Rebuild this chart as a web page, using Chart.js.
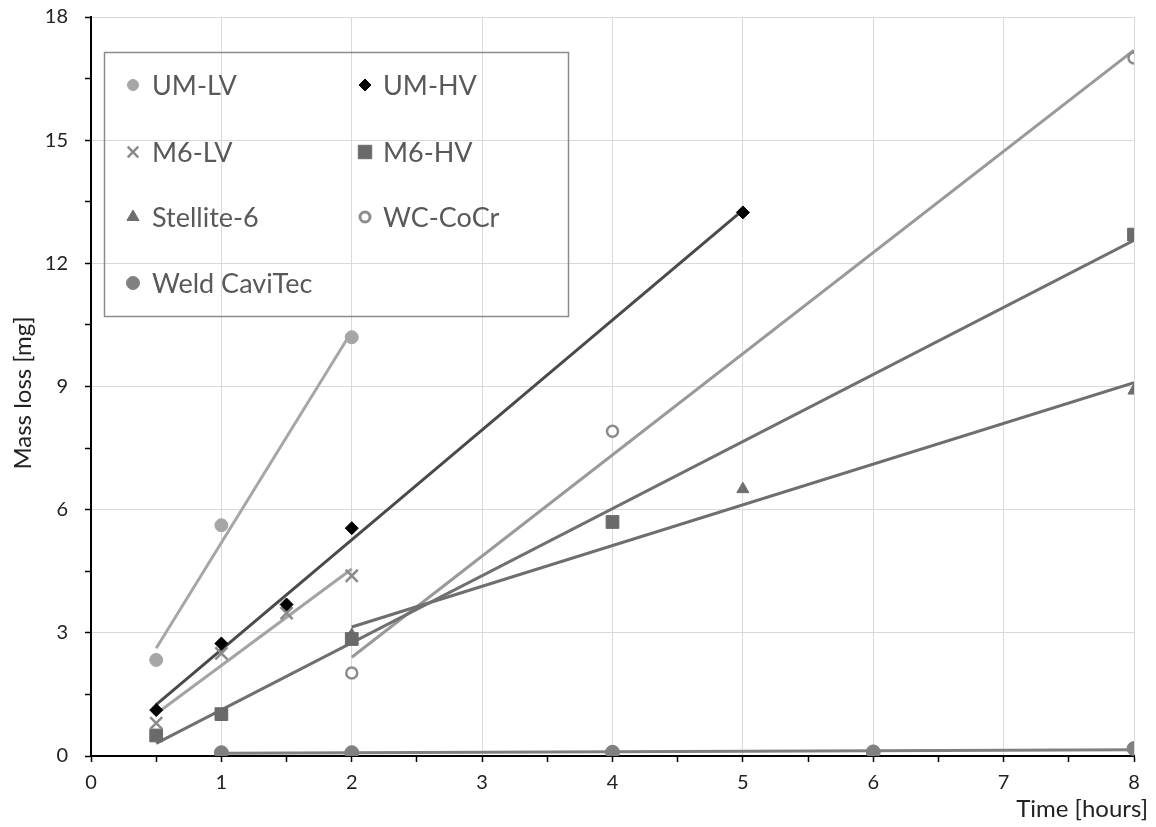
<!DOCTYPE html>
<html><head><meta charset="utf-8">
<script src="https://cdn.jsdelivr.net/npm/chart.js@4.4.1/dist/chart.umd.min.js"></script>
<style>html,body{margin:0;padding:0;background:#fff;}#wrap{width:1156px;height:827px;position:relative;}</style>
</head><body><div id="wrap"><canvas id="c"></canvas></div>
<script>
// ---- data (time in hours, mass loss in mg) ----
const umLvTime = [0.5, 1, 2];
const umLvLoss = [2.34, 5.62, 10.2];
const umHvTime = [0.5, 1, 1.5, 2, 5];
const umHvLoss = [1.12, 2.74, 3.69, 5.55, 13.24];
const m6LvTime = [0.5, 1, 1.5, 2];
const m6LvLoss = [0.8, 2.5, 3.48, 4.39];
const m6HvTime = [0.5, 1, 2, 4, 8];
const m6HvLoss = [0.5, 1.02, 2.85, 5.7, 12.7];
const stelliteTime = [2, 5, 8];
const stelliteLoss = [2.95, 6.5, 8.9];
const wcCoCrTime = [2, 4, 8];
const wcCoCrLoss = [2.02, 7.91, 17.0];
const weldTime = [1, 2, 4, 6, 8];
const weldLoss = [0.08, 0.08, 0.09, 0.1, 0.18];
const xTickLabels = [0, 1, 2, 3, 4, 5, 6, 7, 8];
const yTickLabels = [0, 3, 6, 9, 12, 15, 18];
const FONT = 'Lato, "Open Sans", sans-serif';

function pts(xs, ys) { return xs.map((x, i) => ({ x: x, y: ys[i] })); }
function trend(xs, ys) {
  const n = xs.length;
  const mx = xs.reduce((a, b) => a + b, 0) / n;
  const my = ys.reduce((a, b) => a + b, 0) / n;
  let sxx = 0, sxy = 0;
  for (let i = 0; i < n; i++) { sxx += (xs[i] - mx) ** 2; sxy += (xs[i] - mx) * (ys[i] - my); }
  const b = sxy / sxx, a = my - b * mx;
  const x0 = Math.min(...xs), x1 = Math.max(...xs);
  return [{ x: x0, y: a + b * x0 }, { x: x1, y: a + b * x1 }];
}

const series = [
  { label: 'UM-LV', t: umLvTime, v: umLvLoss, style: 'circle', r: 6.5, fill: '#a6a6a6', stroke: '#a6a6a6', bw: 1, line: '#a6a6a6', lr: 5.5, lbw: 1 },
  { label: 'UM-HV', t: umHvTime, v: umHvLoss, style: 'rectRot', r: 6.5, fill: '#000000', stroke: '#000000', bw: 1, line: '#4a4a4a', lr: 6, lbw: 1 },
  { label: 'M6-LV', t: m6LvTime, v: m6LvLoss, style: 'crossRot', r: 8.5, fill: '#8a8a8a', stroke: '#8a8a8a', bw: 2.5, line: '#a3a3a3', lr: 7.5, lbw: 2.5 },
  { label: 'M6-HV', t: m6HvTime, v: m6HvLoss, style: 'rect', r: 9, fill: '#6a6a6a', stroke: '#6a6a6a', bw: 1, line: '#707070', lr: 9.5, lbw: 1 },
  { label: 'Stellite-6', t: stelliteTime, v: stelliteLoss, style: 'triangle', r: 7, fill: '#6e6e6e', stroke: '#6e6e6e', bw: 1, line: '#6e6e6e', lr: 7, lbw: 1 },
  { label: 'WC-CoCr', t: wcCoCrTime, v: wcCoCrLoss, style: 'circle', r: 5.5, fill: '#ffffff', stroke: '#8c8c8c', bw: 2.5, line: '#999999', lr: 5, lbw: 3 },
  { label: 'Weld CaviTec', t: weldTime, v: weldLoss, style: 'circle', r: 7, fill: '#808080', stroke: '#808080', bw: 1, line: '#808080', lr: 6.5, lbw: 1 }
];

const datasets = [];
series.forEach(s => {
  datasets.push({ label: s.label, data: pts(s.t, s.v), showLine: false, pointStyle: s.style,
    pointRadius: s.r, pointBackgroundColor: s.fill, pointBorderColor: s.stroke, pointBorderWidth: s.bw, order: 0 });
});
series.forEach(s => {
  datasets.push({ label: s.label + ' trend', data: trend(s.t, s.v), showLine: true, pointRadius: 0,
    borderColor: s.line, borderWidth: 3, order: 1 });
});

const isMajor = v => Math.abs(v - Math.round(v)) < 1e-6;
const isMajorY = v => Math.abs(v / 3 - Math.round(v / 3)) < 1e-6;

const overlay = {
  id: 'overlay',
  afterDraw(chart) {
    const ctx = chart.ctx;
    ctx.save();
    // axis titles
    ctx.fillStyle = '#222';
    ctx.font = '24px ' + FONT;
    ctx.textAlign = 'center';
    ctx.textBaseline = 'middle';
    ctx.save();
    ctx.translate(23, 393);
    ctx.rotate(-Math.PI / 2);
    ctx.fillText('Mass loss [mg]', 0, 0);
    ctx.restore();
    ctx.textAlign = 'right';
    ctx.fillText('Time [hours]', 1148, 809);
    // legend box
    ctx.strokeStyle = '#8c8c8c';
    ctx.lineWidth = 1.5;
    ctx.strokeRect(104.5, 52.5, 464, 264);
    const colMarker = [133, 365], colText = [152, 383], rows = [85, 152, 217, 283];
    ctx.font = '27px ' + FONT;
    ctx.textAlign = 'left';
    ctx.textBaseline = 'middle';
    series.forEach((s, i) => {
      const col = i % 2, row = Math.floor(i / 2);
      const x = colMarker[col], y = rows[row];
      ctx.fillStyle = s.fill;
      ctx.strokeStyle = s.stroke;
      ctx.lineWidth = s.lbw;
      Chart.helpers.drawPoint(ctx, { pointStyle: s.style, radius: s.lr, rotation: 0, borderWidth: s.lbw }, x, y);
      ctx.fillStyle = '#595959';
      ctx.fillText(s.label, colText[col], y + 1);
    });
    ctx.restore();
  }
};

new Chart(document.getElementById('c'), {
  type: 'scatter',
  data: { datasets: datasets },
  options: {
    responsive: true, maintainAspectRatio: false, animation: false,
    layout: { padding: { left: 0, right: 22, top: 17, bottom: 0 } },
    plugins: { legend: { display: false }, tooltip: { enabled: false } },
    scales: {
      x: {
        type: 'linear', min: 0, max: 8,
        afterFit(s) { s.height = 71; s.paddingLeft = 0; s.paddingRight = 0; },
        border: { color: '#000', width: 2 },
        grid: { color: c => (c.tick && isMajor(c.tick.value) ? '#d9d9d9' : 'rgba(0,0,0,0)'), lineWidth: 1,
          tickColor: '#000', tickLength: 6, tickWidth: 1.5 },
        ticks: { stepSize: 0.5, autoSkip: false, maxRotation: 0, padding: 9, color: '#222',
          font: { family: FONT, size: 20 },
          callback: v => (isMajor(v) && xTickLabels.includes(Math.round(v)) ? String(Math.round(v)) : '') }
      },
      y: {
        type: 'linear', min: 0, max: 18,
        afterFit(s) { s.width = 91; s.paddingTop = 0; s.paddingBottom = 0; },
        border: { color: '#000', width: 2 },
        grid: { color: c => (c.tick && isMajorY(c.tick.value) ? '#d9d9d9' : 'rgba(0,0,0,0)'), lineWidth: 1,
          tickColor: '#000', tickLength: 6, tickWidth: 1.5 },
        ticks: { stepSize: 1.5, autoSkip: false, padding: 17, color: '#222',
          font: { family: FONT, size: 20 },
          callback: v => (isMajorY(v) && yTickLabels.includes(Math.round(v)) ? String(Math.round(v)) : '') }
      }
    }
  },
  plugins: [overlay]
});
</script>
</body></html>
